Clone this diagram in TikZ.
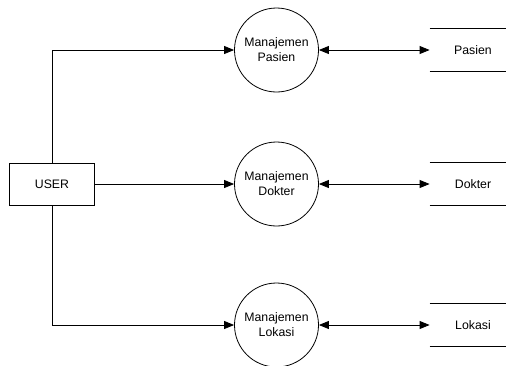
\documentclass[tikz,border=0pt]{standalone}
\usepackage{fontspec}
\setmainfont{Liberation Sans}
\usetikzlibrary{arrows.meta, positioning}

\begin{document}
\begin{tikzpicture}[x=1pt, y=-1pt, line width=0.8pt,
  txt/.style={font=\fontsize{12.3}{15}\selectfont},
  proc/.style={draw, circle, minimum size=84pt, inner sep=0pt, align=center, txt},
  ext/.style={draw, minimum width=84.5pt, minimum height=42pt, inner sep=0pt, txt},
  store/.style={minimum width=86pt, minimum height=42pt, inner sep=0pt, txt},
  flow/.style={-{Triangle[length=10pt, width=8pt]}},
  both/.style={{Triangle[length=10pt, width=8pt]}-{Triangle[length=10pt, width=8pt]}}]
\useasboundingbox (0,0) rectangle (506,365);
\node[ext] (user) at (52,184) {USER};
\node[proc] (mpasien) at (276.5,50) {Manajemen\\Pasien};
\node[proc] (mdokter) at (276.5,184) {Manajemen\\Dokter};
\node[proc] (mlokasi) at (276.5,325) {Manajemen\\Lokasi};
\node[store] (spasien) at (473,50) {Pasien};
\node[store] (sdokter) at (473,184) {Dokter};
\node[store] (slokasi) at (473,325) {Lokasi};
\foreach \s in {spasien, sdokter, slokasi}
  \draw (\s.north west) -- (\s.north east) (\s.south west) -- (\s.south east);
\draw[flow] (user.north) |- (mpasien);
\draw[flow] (user) -- (mdokter);
\draw[flow] (user.south) |- (mlokasi);
\draw[both] (mpasien) -- (spasien);
\draw[both] (mdokter) -- (sdokter);
\draw[both] (mlokasi) -- (slokasi);
\end{tikzpicture}
\end{document}
